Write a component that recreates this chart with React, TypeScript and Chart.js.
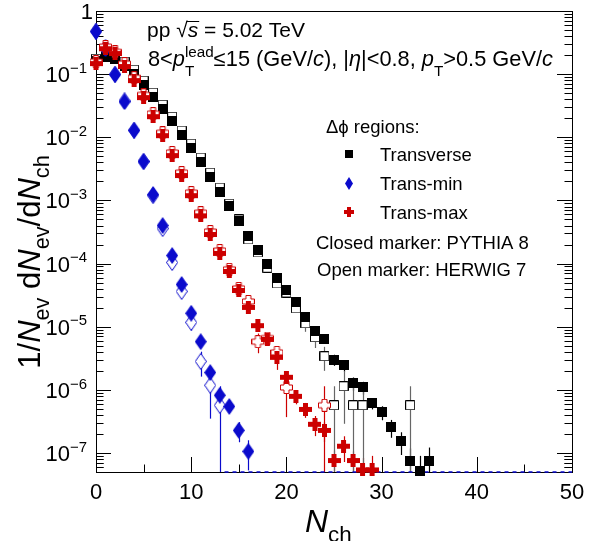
import React, { useEffect, useRef } from 'react';
import { Chart, registerables } from 'chart.js';

Chart.register(...registerables);

// ---------- axis ranges / ticks ----------
const X_MIN = 0;
const X_MAX = 50;
const Y_MIN = 5e-8;
const Y_MAX = 1;
const X_TICK_LABELS = [0, 10, 20, 30, 40, 50];
const X_TICK_STEP = 5;
const Y_DECADES = [0, -1, -2, -3, -4, -5, -6, -7];

// ---------- data (index = Nch) ----------
const transversePythia = [0.164, 0.188, 0.176, 0.136, 0.102, 0.0682, 0.0441, 0.0285, 0.0183, 0.01105, 0.00687, 0.00413, 0.00239, 0.00138, 8.27e-4, 4.8e-4, 2.78e-4, 1.67e-4, 1.0e-4, 6.0e-5, 3.76e-5, 2.43e-5, 1.4e-5, 8.7e-6, 6.3e-6, 3.0e-6, 2.44e-6, 1.27e-6, 1.09e-6, 6.1e-7, 4.4e-7, 2.54e-7, 1.53e-7, 7.6e-8, 5.2e-8, 7.6e-8];
const transversePythiaErr = [null, null, null, null, null, null, null, null, null, null, null, null, null, null, null, null, null, null, null, null, null, null, null, null, null, 6e-7, 5e-7, 3e-7, 2.5e-7, 1.2e-7, 1.1e-7, 8e-8, 6e-8, 4.2e-8, 3.8e-8, 4.6e-8];
const transverseHerwig = [0.176, 0.212, 0.196, 0.158, 0.118, 0.079, 0.051, 0.0329, 0.0212, 0.0128, 0.00794, 0.00478, 0.00276, 0.0016, 8.9e-4, 5.0e-4, 2.41e-4, 1.5e-4, 8.6e-5, 4.84e-5, 3.48e-5, 1.95e-5, 1.13e-5, 6.8e-6, 3.4e-6, 5.7e-7, 1.14e-6, 5.7e-7, 5.7e-7, null, null, null, null, 5.7e-7];
const transverseHerwigErr = [null, null, null, null, null, null, null, null, null, null, null, null, null, null, null, null, null, null, null, null, null, null, 3e-6, 2.2e-6, 1.4e-6, 5.7e-7, 8.5e-7, 5.7e-7, 5.7e-7, null, null, null, null, 5.7e-7];

const transMinPythia = [0.47, 0.254, 0.098, 0.0367, 0.0128, 0.00413, 0.00124, 4.0e-4, 1.34e-4, 4.67e-5, 1.63e-5, 5.8e-6, 1.88e-6, 8.2e-7, 5.45e-7, 2.28e-7, 1.06e-7];
const transMinPythiaErr = [null, null, null, null, null, null, null, null, null, null, null, null, 4e-7, 2.5e-7, 1.1e-7, 8e-8, 5.3e-8];
const transMinHerwig = [0.48, 0.26, 0.1, 0.0376, 0.013, 0.00414, 0.00119, 3.59e-4, 1.04e-4, 3.62e-5, 1.17e-5, 2.82e-6, 1.18e-6, 5.7e-7];
const transMinHerwigErr = [null, null, null, null, null, null, null, null, null, null, 3e-6, 1.2e-6, 8.3e-7, 5.7e-7];
const transMinZeroRange = [13.5, 50];

const transMaxPythia = [0.147, 0.253, 0.212, 0.132, 0.079, 0.0425, 0.0212, 0.0106, 0.00513, 0.00248, 0.00119, 5.7e-4, 2.89e-4, 1.45e-4, 7.5e-5, 3.75e-5, 2.02e-5, 1.04e-5, 6.3e-6, 3.27e-6, 1.58e-6, 7.9e-7, 4.9e-7, 2.85e-7, 2.28e-7, 7.6e-8, 1.28e-7, 7.6e-8, 5.4e-8, 5.4e-8];
const transMaxPythiaErr = [null, null, null, null, null, null, null, null, null, null, null, null, null, null, null, null, null, null, null, 1.2e-6, 4e-7, 2e-7, 1.3e-7, 1e-7, 8e-8, 3.4e-8, 5.6e-8, 3.0e-8, 3.0e-8, 3.6e-8];
const transMaxHerwig = [0.158, 0.273, 0.226, 0.147, 0.088, 0.047, 0.0237, 0.0118, 0.00573, 0.00276, 0.00133, 6.4e-4, 3.22e-4, 1.61e-4, 8.1e-5, 4.04e-5, 2.51e-5, 5.8e-6, 6.6e-6, 3.92e-6, 1.09e-6, null, null, null, 5.7e-7];
const transMaxHerwigErr = [null, null, null, null, null, null, null, null, null, null, null, null, null, null, null, null, 5e-6, 2e-6, null, 1e-6, 7.2e-7, null, null, null, 5.7e-7];

const BLACK = '#000000';
const BLUE = '#0a0acc';
const RED = '#cc0000';
const FAMILY = '"Liberation Sans", Arial, Helvetica, sans-serif';

type Seg = { t: string; it?: boolean; sc?: number; dy?: number; keep?: boolean; over?: boolean };

function drawRich(ctx: CanvasRenderingContext2D, segs: Seg[], x: number, y: number, size: number, dry = false): number {
  let cx = x;
  let kept = 0;
  for (const s of segs) {
    const fs = size * (s.sc ?? 1);
    ctx.font = `${s.it ? 'italic ' : ''}${fs}px ${FAMILY}`;
    const w = ctx.measureText(s.t).width;
    if (!dry) {
      ctx.fillText(s.t, cx, y + (s.dy ?? 0) * size);
      if (s.over) {
        ctx.save();
        ctx.lineWidth = 1;
        ctx.beginPath();
        const oy = Math.round(y - 0.78 * size) + 0.5;
        ctx.moveTo(cx - 1, oy);
        ctx.lineTo(cx + w + 1, oy);
        ctx.strokeStyle = ctx.fillStyle as string;
        ctx.stroke();
        ctx.restore();
      }
    }
    if (s.keep) {
      kept = w;
    } else {
      cx += Math.max(w, kept);
      kept = 0;
    }
  }
  return cx - x;
}

function makeMarker(kind: string, filled: boolean, color: string, w: number, h: number, arm = 4): HTMLCanvasElement {
  const c = document.createElement('canvas');
  c.width = w;
  c.height = h;
  const g = c.getContext('2d')!;
  g.beginPath();
  const i = filled ? 0 : 0.5;
  if (kind === 'square') {
    g.rect(i, i, w - 2 * i, h - 2 * i);
  } else if (kind === 'diamond') {
    g.moveTo(w / 2, i);
    g.lineTo(w - i, h / 2);
    g.lineTo(w / 2, h - i);
    g.lineTo(i, h / 2);
    g.closePath();
  } else {
    const a = (w - arm) / 2;
    const pts = [
      [a, i], [a + arm, i], [a + arm, a], [w - i, a], [w - i, a + arm], [a + arm, a + arm],
      [a + arm, h - i], [a, h - i], [a, a + arm], [i, a + arm], [i, a], [a, a],
    ];
    pts.forEach((p, k) => (k === 0 ? g.moveTo(p[0], p[1]) : g.lineTo(p[0], p[1])));
    g.closePath();
  }
  if (filled) {
    g.fillStyle = color;
    g.fill();
  } else {
    g.fillStyle = '#ffffff';
    g.fill();
    g.strokeStyle = color;
    g.lineWidth = 1;
    g.stroke();
  }
  return c;
}

function toPoints(vals: (number | null)[], errs: (number | null)[]) {
  const out: { x: number; y: number; e: number | null }[] = [];
  vals.forEach((v, i) => {
    if (v != null) out.push({ x: i, y: v, e: errs[i] ?? null });
  });
  return out;
}

export default function App() {
  const ref = useRef<HTMLCanvasElement>(null);

  useEffect(() => {
    const canvas = ref.current!;
    const mSqF = makeMarker('square', true, BLACK, 10, 10);
    const mSqO = makeMarker('square', false, BLACK, 10, 10);
    const mDiF = makeMarker('diamond', true, BLUE, 12, 17);
    const mDiO = makeMarker('diamond', false, BLUE, 12, 17);
    const mCrF = makeMarker('cross', true, RED, 13, 13, 5);
    const mCrO = makeMarker('cross', false, RED, 13, 13, 5);
    const lSq = makeMarker('square', true, BLACK, 8, 8);
    const lDi = makeMarker('diamond', true, BLUE, 8, 13);
    const lCr = makeMarker('cross', true, RED, 10, 10, 4);

    const ds = (data: any[], style: HTMLCanvasElement, errColor: string) => ({
      data,
      pointStyle: style,
      pointRadius: 6,
      showLine: false,
      clip: false as any,
      errColor,
    });

    const datasets: any[] = [
      ds(toPoints(transMaxPythia, transMaxPythiaErr), mCrF, RED),
      ds(toPoints(transMaxHerwig, transMaxHerwigErr), mCrO, RED),
      ds(toPoints(transMinPythia, transMinPythiaErr), mDiF, BLUE),
      ds(toPoints(transMinHerwig, transMinHerwigErr), mDiO, BLUE),
      ds(toPoints(transversePythia, transversePythiaErr), mSqF, BLACK),
      ds(toPoints(transverseHerwig, transverseHerwigErr), mSqO, '#666666'),
      {
        type: 'line',
        data: transMinZeroRange.map((x) => ({ x, y: Y_MIN })),
        borderColor: BLUE,
        borderWidth: 1.5,
        borderDash: [4, 4],
        pointRadius: 0,
        clip: false,
        isZero: true,
      },
    ];

    const rootPlugin = {
      id: 'rootStyle',
      beforeDatasetsDraw(chart: any) {
        const ctx: CanvasRenderingContext2D = chart.ctx;
        const { left, right, top, bottom } = chart.chartArea;
        const xs = chart.scales.x;
        const ys = chart.scales.y;
        ctx.save();
        ctx.fillStyle = '#fff';
        ctx.fillRect(0, 0, chart.width, chart.height);
        // frame
        ctx.strokeStyle = '#000';
        ctx.lineWidth = 1;
        ctx.strokeRect(left + 0.5, top + 0.5, right - left, bottom - top);
        // x ticks
        ctx.beginPath();
        for (let v = X_MIN; v <= X_MAX; v += X_TICK_STEP) {
          const px = Math.round(xs.getPixelForValue(v)) + 0.5;
          const len = v % 10 === 0 ? 15 : 7.5;
          ctx.moveTo(px, bottom);
          ctx.lineTo(px, bottom - len);
        }
        // y ticks
        for (const d of Y_DECADES) {
          for (let m = 1; m <= 9; m++) {
            const val = m === 1 ? Math.pow(10, d) : m * Math.pow(10, d - 1);
            if (val < Y_MIN || val > Y_MAX) continue;
            const py = Math.round(ys.getPixelForValue(val)) + 0.5;
            const len = m === 1 ? 15 : 7.5;
            ctx.moveTo(left, py);
            ctx.lineTo(left + len, py);
            ctx.moveTo(right, py);
            ctx.lineTo(right - len, py);
          }
        }
        for (let m = 5; m <= 9; m++) {
          const val = m * 1e-8;
          if (val < Y_MIN) continue;
          const py = Math.round(ys.getPixelForValue(val)) + 0.5;
          ctx.moveTo(left, py);
          ctx.lineTo(left + 7.5, py);
          ctx.moveTo(right, py);
          ctx.lineTo(right - 7.5, py);
        }
        ctx.stroke();

        // error bars
        ctx.beginPath();
        ctx.rect(left, top, right - left, bottom - top);
        ctx.clip();
        chart.data.datasets.forEach((dset: any, i: number) => {
          if (dset.isZero) return;
          const meta = chart.getDatasetMeta(i);
          ctx.strokeStyle = dset.errColor;
          ctx.lineWidth = 1.2;
          dset.data.forEach((p: any, j: number) => {
            if (p.e == null) return;
            const el = meta.data[j];
            const px = Math.round(el.x) + 0.5;
            const hi = ys.getPixelForValue(p.y + p.e);
            const loV = p.y - p.e;
            const lo = loV > Y_MIN * 0.5 ? ys.getPixelForValue(loV) : bottom + 5;
            ctx.beginPath();
            ctx.moveTo(px, hi);
            ctx.lineTo(px, lo);
            ctx.stroke();
          });
        });
        ctx.restore();
      },
      afterDraw(chart: any) {
        const ctx: CanvasRenderingContext2D = chart.ctx;
        const { bottom } = chart.chartArea;
        const xs = chart.scales.x;
        const ys = chart.scales.y;
        ctx.save();
        ctx.fillStyle = '#000';
        ctx.textBaseline = 'alphabetic';
        // x tick labels
        ctx.font = `22px ${FAMILY}`;
        ctx.textAlign = 'center';
        for (const v of X_TICK_LABELS) {
          ctx.fillText(String(v), xs.getPixelForValue(v), bottom + 27);
        }
        // y tick labels
        ctx.textAlign = 'left';
        for (const d of Y_DECADES) {
          const py = ys.getPixelForValue(Math.pow(10, d));
          if (d === 0) {
            ctx.font = `22px ${FAMILY}`;
            const w = ctx.measureText('1').width;
            ctx.fillText('1', 93 - w, py + 8);
            continue;
          }
          const segs: Seg[] = [
            { t: '10' },
            { t: '\u2212' + String(-d), sc: 0.68, dy: -0.42 },
          ];
          const w = drawRich(ctx, segs, 0, 0, 22, true);
          drawRich(ctx, segs, 87 - w, py + 8, 22);
        }
        // axis titles
        const xt: Seg[] = [{ t: 'N', it: true }, { t: 'ch', sc: 0.7, dy: 0.3 }];
        drawRich(ctx, xt, 305, 532, 32);

        const yt: Seg[] = [
          { t: '1/' },
          { t: 'N', it: true },
          { t: 'ev', sc: 0.7, dy: 0.3 },
          { t: ' d' },
          { t: 'N', it: true },
          { t: 'ev', sc: 0.7, dy: 0.3 },
          { t: '/d' },
          { t: 'N', it: true },
          { t: 'ch', sc: 0.7, dy: 0.3 },
        ];
        const YT = 31;
        const ytw = drawRich(ctx, yt, 0, 0, YT, true);
        ctx.save();
        ctx.translate(40, 262);
        ctx.rotate(-Math.PI / 2);
        drawRich(ctx, yt, -ytw / 2, 0, YT);
        ctx.restore();

        // header text
        const l1: Seg[] = [
          { t: 'pp ' },
          { t: '\u221A' },
          { t: 's', it: true, over: true },
          { t: ' = 5.02 TeV' },
        ];
        drawRich(ctx, l1, 147, 37, 21);
        const l2: Seg[] = [
          { t: '8<' },
          { t: 'p', it: true },
          { t: 'lead', sc: 0.7, dy: -0.42, keep: true },
          { t: 'T', sc: 0.7, dy: 0.45 },
          { t: '\u226415 (GeV/' },
          { t: 'c', it: true },
          { t: '), |' },
          { t: '\u03B7', it: true },
          { t: '|<0.8, ' },
          { t: 'p', it: true },
          { t: 'T', sc: 0.7, dy: 0.45 },
          { t: '>0.5 GeV/' },
          { t: 'c', it: true },
        ];
        drawRich(ctx, l2, 148, 66, 21.8);

        // legend
        const LS = 18.5;
        ctx.font = `${LS}px ${FAMILY}`;
        ctx.fillText('\u0394\u03D5 regions:', 326, 133);
        const items: [HTMLCanvasElement, string, number][] = [
          [lSq, 'Transverse', 154],
          [lDi, 'Trans-min', 183],
          [lCr, 'Trans-max', 212],
        ];
        for (const [img, label, cy] of items) {
          ctx.drawImage(img, Math.round(349 - img.width / 2), Math.round(cy - img.height / 2));
          ctx.fillText(label, 380, cy + 6.6);
        }
        ctx.fillText('Closed marker: PYTHIA 8', 316, 248.5);
        ctx.fillText('Open marker: HERWIG 7', 317, 275.5);
        ctx.restore();
      },
    };

    const chart = new Chart(canvas, {
      type: 'scatter',
      data: { datasets },
      options: {
        animation: false,
        responsive: false,
        maintainAspectRatio: false,
        events: [],
        layout: { padding: { left: 96, right: 21, top: 11, bottom: 69 } },
        scales: {
          x: { type: 'linear', min: X_MIN, max: X_MAX, display: false },
          y: { type: 'logarithmic', min: Y_MIN, max: Y_MAX, display: false },
        },
        plugins: { legend: { display: false }, tooltip: { enabled: false } },
      },
      plugins: [rootPlugin],
    } as any);
    return () => chart.destroy();
  }, []);

  return (
    <div style={{ position: 'absolute', left: 0, top: 0, width: 593, height: 541, background: '#fff' }}>
      <canvas ref={ref} width={593} height={541} style={{ display: 'block', width: 593, height: 541 }} />
    </div>
  );
}
